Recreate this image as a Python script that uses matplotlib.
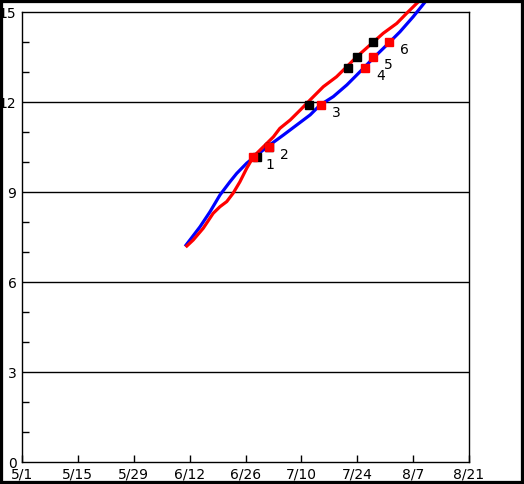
import matplotlib
matplotlib.use("Agg")
import matplotlib.pyplot as plt
import numpy as np
from matplotlib.patches import Rectangle

# Days since 5/1
blue_x = [41.1, 44.6, 47.1, 49.6, 52.1, 53.8, 56.3, 58.8, 62.1, 65.5, 68.8, 72.2,
          74.7, 78.0, 81.4, 84.7, 88.0, 91.4, 94.7, 98.0, 101.4]
blue_y = [7.23, 7.84, 8.34, 8.9, 9.34, 9.62, 9.96, 10.23, 10.57, 10.9, 11.23, 11.57,
          11.9, 12.18, 12.57, 13.01, 13.46, 13.9, 14.34, 14.84, 15.4]

red_x = [41.3, 42.9, 45.4, 47.9, 49.6, 51.3, 52.9, 54.6, 56.3, 58.0, 60.5, 63.0,
         64.6, 67.2, 69.7, 72.2, 75.5, 78.8, 81.4, 83.9, 87.2, 90.5, 93.9, 96.4, 99.3]
red_y = [7.2, 7.4, 7.79, 8.29, 8.51, 8.68, 8.96, 9.34, 9.79, 10.18, 10.51, 10.84,
         11.12, 11.4, 11.73, 12.07, 12.51, 12.84, 13.18, 13.51, 13.9, 14.29, 14.62, 14.96, 15.34]

black_mx = [58.8, 61.8, 72.0, 81.8, 83.9, 87.9]
black_my = [10.18, 10.51, 11.9, 13.14, 13.51, 14.01]

red_mx = [58.0, 61.8, 74.8, 85.9, 87.9, 91.9]
red_my = [10.18, 10.51, 11.9, 13.14, 13.51, 14.01]
red_labels = ["1", "2", "3", "4", "5", "6"]

x_ticks = [0, 14, 28, 42, 56, 70, 84, 98, 112]
x_ticklabels = ["5/1", "5/15", "5/29", "6/12", "6/26", "7/10", "7/24", "8/7", "8/21"]
y_ticks = [0, 3, 6, 9, 12, 15]

W, H = 524, 484
fig = plt.figure(figsize=(W / 100, H / 100), dpi=100)
fig.patch.set_facecolor("white")
ax = fig.add_axes([22 / W, 1 - 462 / H, (469 - 22) / W, (462 - 12) / H])

ax.set_xlim(0, 112)
ax.set_ylim(0, 15)

for g in [3, 6, 9, 12]:
    ax.axhline(g, color="black", lw=1.0, zorder=1)

ax.plot(blue_x, blue_y, color="#0000ff", lw=2.3, clip_on=False, zorder=3)
ax.plot(red_x, red_y, color="#ff0000", lw=2.3, clip_on=False, zorder=3)

ax.plot(black_mx, black_my, linestyle="none", marker="s", markersize=6.2,
        color="black", zorder=4)
ax.plot(red_mx, red_my, linestyle="none", marker="s", markersize=6.2,
        color="#ff0000", zorder=5)

for x, y, t in zip(red_mx, red_my, red_labels):
    ax.annotate(t, (x, y), xytext=(11.5, -5.8), textcoords="offset points",
                ha="center", va="center", fontsize=10, color="black")

ax.set_xticks(x_ticks)
ax.set_xticklabels(x_ticklabels)
ax.set_yticks(y_ticks)
ax.set_yticks(np.arange(0, 16, 1), minor=True)
ax.tick_params(axis="x", direction="in", length=5, width=1, pad=4, labelsize=10)
ax.tick_params(axis="y", which="major", direction="in", length=0, pad=4, labelsize=10)
ax.tick_params(axis="y", which="minor", direction="in", length=5, width=1)
for s in ax.spines.values():
    s.set_linewidth(1.0)
    s.set_color("black")

fig.patches.append(Rectangle((0, 0), 1, 1, transform=fig.transFigure,
                             fill=False, edgecolor="black", linewidth=4.5, zorder=10))

fig.savefig("out.png", dpi=100)
